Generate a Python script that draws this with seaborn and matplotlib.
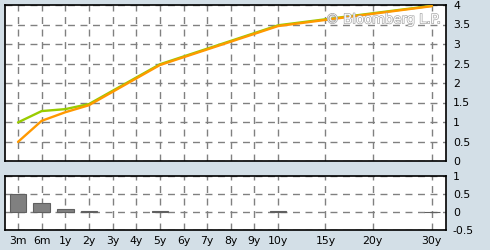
import matplotlib
matplotlib.use("Agg")
import matplotlib.pyplot as plt
import matplotlib.patheffects as pe
import seaborn as sns
import pandas as pd

# Axis layout (non-uniform tenor scale)
tick_labels = ['3m', '6m', '1y', '2y', '3y', '4y', '5y', '6y', '7y', '8y', '9y', '10y', '15y', '20y', '30y']
tick_pos = [0, 1, 2, 3, 4, 5, 6, 7, 8, 9, 10, 11, 13, 15, 17.5]

# Data
tenors = ['3m', '6m', '1y', '2y', '5y', '10y', '30y']
previous = [0.99, 1.28, 1.33, 1.46, 2.48, 3.48, 3.98]
current = [0.49, 1.03, 1.25, 1.43, 2.46, 3.46, 3.97]
change = [0.50, 0.26, 0.09, 0.02, 0.02, 0.02, 0.005]

top_yticks = [0, 0.5, 1, 1.5, 2, 2.5, 3, 3.5, 4]
bot_yticks = [-0.5, 0, 0.5, 1]

pos_map = dict(zip(tick_labels, tick_pos))
df = pd.DataFrame({'tenor': tenors, 'previous': previous, 'current': current, 'change': change})
df['x'] = df['tenor'].map(pos_map)

sns.set_theme(style='white')
plt.rcParams['font.family'] = ['DejaVu Sans']

W, H = 490, 250
fig = plt.figure(figsize=(W / 100, H / 100), dpi=100)
bg = '#d3dfe7'
fig.patch.set_facecolor(bg)

def frac(x0, y0, x1, y1):
    return [x0 / W, 1 - y1 / H, (x1 - x0) / W, (y1 - y0) / H]

ax1 = fig.add_axes(frac(5, 5, 446, 161))
ax2 = fig.add_axes(frac(5, 176, 446, 230))

xlim = (-0.55, 18.1)
grid_kw = dict(color='#808080', linestyle=(0, (5, 4)), linewidth=1.0)

sns.lineplot(data=df, x='x', y='previous', ax=ax1, color='#99cc00', linewidth=1.7, zorder=3)
sns.lineplot(data=df, x='x', y='current', ax=ax1, color='#ff9900', linewidth=1.7, zorder=4)

sns.barplot(data=df, x='x', y='change', ax=ax2, native_scale=True, width=0.7,
            color='#808080', edgecolor='#606060', linewidth=0.8, saturation=1, zorder=3)

for ax, yt, yl in ((ax1, top_yticks, (0, 4)), (ax2, bot_yticks, (-0.5, 1))):
    ax.set_facecolor('white')
    ax.set_xlim(*xlim)
    ax.set_ylim(*yl)
    ax.set_xticks(tick_pos)
    ax.set_yticks(yt)
    ax.set_yticklabels([('%g' % v) for v in yt])
    ax.yaxis.tick_right()
    ax.tick_params(axis='both', length=0, labelsize=7.8, colors='black', pad=5)
    ax.set_xlabel('')
    ax.set_ylabel('')
    ax.grid(True, **grid_kw)
    ax.set_axisbelow(True)
    for s in ax.spines.values():
        s.set_visible(True)
        s.set_color('black')
        s.set_linewidth(1.2)

ax1.set_xticklabels([])
ax2.set_xticklabels(tick_labels)
ax2.tick_params(axis='x', pad=4)

ax1.text(0.99, 0.905, '© Bloomberg L.P.', transform=ax1.transAxes, ha='right', va='center',
         fontsize=9.5, color='white',
         path_effects=[pe.withStroke(linewidth=1.0, foreground='#a8a8a8')], zorder=5)

fig.savefig('out.png', dpi=100, facecolor=bg)
